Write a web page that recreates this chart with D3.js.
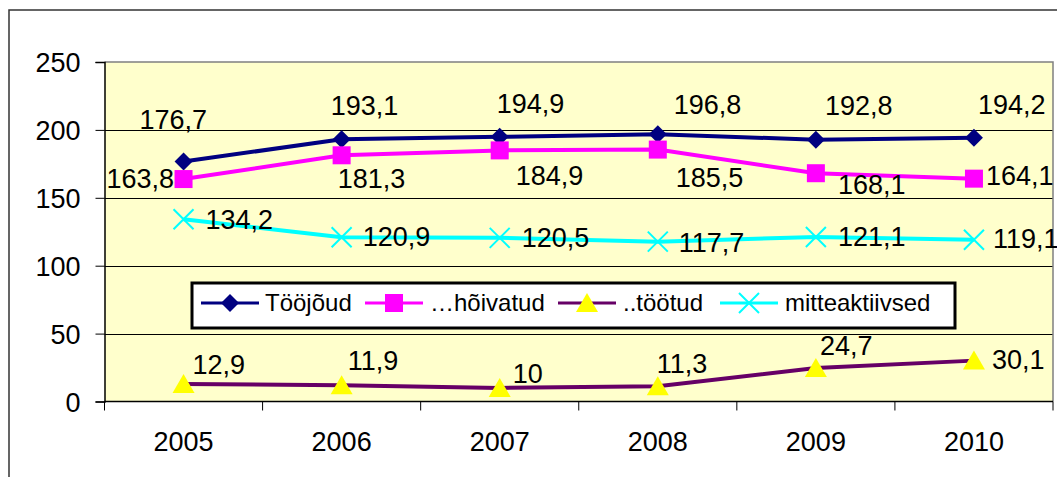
<!DOCTYPE html>
<html>
<head>
<meta charset="utf-8">
<script src="https://cdn.jsdelivr.net/npm/d3@7"></script>
<style>
  html, body { margin: 0; padding: 0; background: #fff; }
  text { font-family: "Liberation Sans", Arial, sans-serif; fill: #000; }
</style>
</head>
<body>
<svg id="chart" width="1057" height="477"></svg>
<script>
// Chart data
const years = ['2005', '2006', '2007', '2008', '2009', '2010'];
const tooJoud = [176.7, 193.1, 194.9, 196.8, 192.8, 194.2];
const hoivatud = [163.8, 181.3, 184.9, 185.5, 168.1, 164.1];
const tootud = [12.9, 11.9, 10, 11.3, 24.7, 30.1];
const mitteaktiivsed = [134.2, 120.9, 120.5, 117.7, 121.1, 119.1];
const yTicks = [0, 50, 100, 150, 200, 250];

// label nudges (start x / baseline relative to the point)
const labelNudge = {
  tooJoud: [[-44, -33], [-11, -24], [-3, -24], [16, -20], [9, -25], [4, -24]],
  hoivatud: [[-77, 9], [-4, 33], [16, 35], [18, 37], [22, 21], [12, 6]],
  tootud: [[9, -10], [6, -15], [13, -5], [-1, -13], [4, -13], [18, 8]],
  mitteaktiivsed: [[22, 10], [21, 9], [22, 9], [21, 10], [22, 9], [19, 8]]
};

const series = [
  { key: 'tooJoud', name: 'Tööjõud', values: tooJoud, color: '#000080', marker: 'diamond', fill: '#000080' },
  { key: 'hoivatud', name: '…hõivatud', values: hoivatud, color: '#FF00FF', marker: 'square', fill: '#FF00FF' },
  { key: 'tootud', name: '..töötud', values: tootud, color: '#660066', marker: 'triangle', fill: '#FFFF00' },
  { key: 'mitteaktiivsed', name: 'mitteaktiivsed', values: mitteaktiivsed, color: '#00FFFF', marker: 'cross', fill: 'none' }
];

const svg = d3.select('#chart');

const plot = { left: 104.5, right: 1053, top: 62, bottom: 401.5 };

const x = d3.scaleBand().domain(years).range([plot.left, plot.right]).padding(0);
const y = d3.scaleLinear().domain([0, 250]).range([plot.bottom, plot.top]);
const cx = d => x(d) + x.bandwidth() / 2;

// outer chart frame
svg.append('path')
  .attr('d', 'M9,480 L9,10 L1060,10')
  .attr('fill', 'none')
  .attr('stroke', '#333')
  .attr('stroke-width', 1.5);

// plot background
svg.append('rect')
  .attr('x', plot.left).attr('y', plot.top)
  .attr('width', plot.right - plot.left).attr('height', plot.bottom - plot.top)
  .attr('fill', '#FFFFCC');

// gridlines
svg.append('g').selectAll('line')
  .data(yTicks.filter(t => t > 0 && t < 250))
  .join('line')
  .attr('x1', plot.left).attr('x2', plot.right)
  .attr('y1', d => Math.round(y(d)) + 0.5).attr('y2', d => Math.round(y(d)) + 0.5)
  .attr('stroke', '#000').attr('stroke-width', 1);

// plot border top/right
svg.append('path')
  .attr('d', `M${plot.left},${plot.top} L${plot.right},${plot.top} L${plot.right},${plot.bottom}`)
  .attr('fill', 'none').attr('stroke', '#808080').attr('stroke-width', 1.5);

// y axis
const yAxis = svg.append('g')
  .attr('transform', `translate(${plot.left},0)`)
  .call(d3.axisLeft(y).tickValues(yTicks).tickSize(9).tickPadding(15).tickFormat(d3.format('d')));
yAxis.select('.domain').attr('stroke', '#000').attr('stroke-width', 1.5);
yAxis.selectAll('.tick line').attr('stroke', '#000');
yAxis.selectAll('.tick text')
  .attr('font-size', 27).attr('font-family', '"Liberation Sans", Arial, sans-serif')
  .attr('fill', '#000').attr('dy', '0.36em');

// x axis: ticks at category boundaries
const xAxisG = svg.append('g');
xAxisG.append('line')
  .attr('x1', plot.left).attr('x2', plot.right)
  .attr('y1', plot.bottom).attr('y2', plot.bottom)
  .attr('stroke', '#000').attr('stroke-width', 1.5);
xAxisG.selectAll('.xtick')
  .data(years.concat(['end']))
  .join('line')
  .attr('x1', (d, i) => i < years.length ? x(d) : plot.right)
  .attr('x2', (d, i) => i < years.length ? x(d) : plot.right)
  .attr('y1', plot.bottom).attr('y2', plot.bottom + 9)
  .attr('stroke', '#000');
xAxisG.selectAll('.xlabel')
  .data(years)
  .join('text')
  .attr('x', d => cx(d))
  .attr('y', 451)
  .attr('text-anchor', 'middle')
  .attr('font-size', 27)
  .text(d => d);

// marker drawing
function drawMarker(g, type, color, fill) {
  if (type === 'diamond') {
    g.append('path').attr('d', 'M0,-9 L9,0 L0,9 L-9,0 Z').attr('fill', fill);
  } else if (type === 'square') {
    g.append('rect').attr('x', -9).attr('y', -9).attr('width', 18).attr('height', 18).attr('fill', fill);
  } else if (type === 'triangle') {
    g.append('path').attr('d', 'M0,-10 L11,9 L-11,9 Z').attr('fill', fill);
  } else if (type === 'cross') {
    g.append('path').attr('d', 'M-10,-10 L10,10 M-10,10 L10,-10')
      .attr('stroke', color).attr('stroke-width', 2).attr('fill', 'none');
  }
}

const line = d3.line().x((d, i) => cx(years[i])).y(d => y(d));

// lines and markers
series.forEach(s => {
  const g = svg.append('g');
  g.append('path')
    .datum(s.values)
    .attr('d', line)
    .attr('fill', 'none')
    .attr('stroke', s.color)
    .attr('stroke-width', 4);
  s.values.forEach((v, i) => {
    const m = g.append('g').attr('transform', `translate(${cx(years[i])},${y(v)})`);
    drawMarker(m, s.marker, s.color, s.fill);
  });
});

// data labels
series.forEach(s => {
  svg.append('g').selectAll('text')
    .data(s.values)
    .join('text')
    .attr('x', (d, i) => cx(years[i]) + labelNudge[s.key][i][0])
    .attr('y', (d, i) => y(d) + labelNudge[s.key][i][1])
    .attr('font-size', 27)
    .text(d => String(d).replace('.', ','));
});

// legend
const legend = svg.append('g');
legend.append('rect')
  .attr('x', 192).attr('y', 283)
  .attr('width', 763).attr('height', 45)
  .attr('fill', '#fff').attr('stroke', '#000').attr('stroke-width', 3);

const legendItems = [
  { lx: 201, tx: 265 },
  { lx: 365, tx: 430 },
  { lx: 558, tx: 623 },
  { lx: 720, tx: 785 }
];
series.forEach((s, i) => {
  const it = legendItems[i];
  const g = legend.append('g');
  g.append('line')
    .attr('x1', it.lx).attr('x2', it.lx + 58)
    .attr('y1', 303).attr('y2', 303)
    .attr('stroke', s.color).attr('stroke-width', 3);
  const m = g.append('g').attr('transform', `translate(${it.lx + 29},303)`);
  drawMarker(m, s.marker, s.color, s.fill);
  g.append('text')
    .attr('x', it.tx).attr('y', 311)
    .attr('font-size', 24)
    .text(s.name);
});
</script>
</body>
</html>
